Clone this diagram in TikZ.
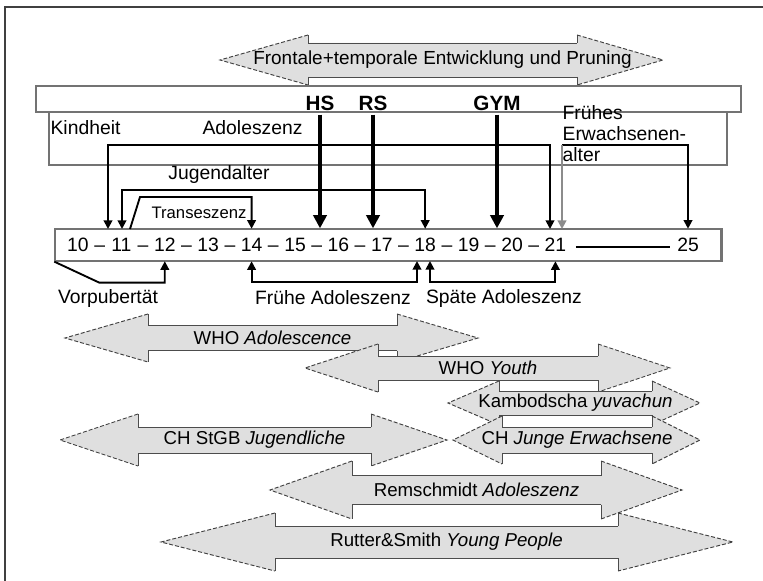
\documentclass[tikz,border=0pt]{standalone}
\usepackage{fontspec}
\setmainfont{Liberation Sans}
\usetikzlibrary{arrows.meta}

\tikzset{
  frame/.style={draw=black!75, line width=0.8pt},
  band/.style={draw=black!55, line width=1pt},
  lbl/.style={font=\fontsize{14.5}{15.75}\selectfont, inner sep=1pt},
  num/.style={font=\fontsize{14.5}{17}\selectfont, inner sep=0pt, text height=10.4pt, text depth=0pt, minimum height=24pt},
  school/.style={font=\fontsize{15.5}{18}\selectfont\bfseries, inner sep=3pt},
  schoolarr/.style={line width=2.4pt, -{Triangle[length=10pt,width=10pt]}},
  brk/.style={line width=1.4pt, >={Triangle[length=6.5pt,width=6.5pt]}},
  spanfill/.style={fill=gray!25},
  spanhead/.style={draw=black!75, line width=0.7pt, dash pattern=on 3pt off 1.5pt},
  spanline/.style={draw=black!70, line width=0.7pt},
  spantext/.style={font=\fontsize{14}{16}\selectfont, inner sep=1pt}
}

% gray double arrow: name, left tip, left back, right back, right tip, y, shaft half, head half, text
\newcommand{\spanarrow}[9]{%
  \fill[spanfill] (#2,#6) -- (#3,#6-#8) -- (#3,#6-#7) -- (#4,#6-#7) -- (#4,#6-#8) -- (#5,#6)
    -- (#4,#6+#8) -- (#4,#6+#7) -- (#3,#6+#7) -- (#3,#6+#8) -- cycle;
  \draw[spanline] (#3,#6-#7) -- (#3,#6-#8) (#3,#6+#7) -- (#3,#6+#8)
    (#4,#6-#7) -- (#4,#6-#8) (#4,#6+#7) -- (#4,#6+#8);
  \draw[spanhead] (#3,#6-#8) -- (#2,#6) -- (#3,#6+#8);
  \draw[spanhead] (#4,#6-#8) -- (#5,#6) -- (#4,#6+#8);
  \draw[spanline] (#3,#6-#7) -- (#4,#6-#7) (#3,#6+#7) -- (#4,#6+#7);
  \node[spantext] (#1) at ({(#3+#4)/2},#6) {#9};
}

\begin{document}
\begin{tikzpicture}[x=0.75pt, y=-0.75pt]
\useasboundingbox (0,0) rectangle (763,581);
\draw[frame] (5,581) -- (5,7) -- (763,7);

% development arrow on top
\spanarrow{front}{220}{308}{577}{663}{60}{17}{25}{\fontsize{14.2}{16}\selectfont Frontale+temporale Entwicklung und Pruning}

% school bands
\draw[band] (36,86) rectangle (741,112);
\draw[band] (49,112) rectangle (727,165);
\node[school] (HS) at (320,103) {HS};
\node[school] (RS) at (373,103) {RS};
\node[school] (GYM) at (497,103) {GYM};

\node[lbl, anchor=west] (kind) at (49,128) {Kindheit};
\node[lbl, anchor=west] (adol) at (201,128) {Adoleszenz};
\node[lbl, anchor=west, align=left] (erw) at (561,134) {Frühes\\Erwachsenen-\\alter};
\node[lbl] (jugend) at (219,175) {Jugendalter};
\node[lbl, font=\fontsize{12.5}{14}\selectfont] (trans) at (199,213) {Transeszenz};

% age scale
\node[band, minimum width=499.5pt, minimum height=24pt, inner sep=0pt] (ages) at (388,245) {};
\draw[draw=black!55, line width=2pt] (ages.north east) -- (ages.south east);
\foreach \n [count=\i from 0] in {10,...,21}
  \node[num] (a\n) at ({78+43.4*\i},245) {\n};
\foreach \n [count=\i from 0] in {10,...,20}
  \node[num] (d\n) at ({99.7+43.4*\i},245) {–};
\node[num] (a25) at (688,245) {25};
\draw[line width=0.8pt, shorten <=7pt, shorten >=5pt] ([yshift=-1.5pt]a21.east) -- ([yshift=-1.5pt]a25.west);

\coordinate (adL) at (108,229);
\coordinate (adR) at (550,229);
\coordinate (jgL) at (122,229);
\coordinate (trL) at (130,229);
\coordinate (frL) at (562,229);
\coordinate (frC) at (562,145);
\coordinate (fhR) at (417,261);
\coordinate (spL) at (430,261);

% school arrows
\draw[schoolarr] (HS.south) -- (HS.south |- ages.north);
\draw[schoolarr] (RS.south) -- (RS.south |- ages.north);
\draw[schoolarr] (GYM.south) -- (GYM.south |- ages.north);

% brackets above
\draw[brk,<->] (adL) -- ++(0,-84) -| (adR);
\draw[brk,<->] (jgL) -- ++(0,-39) -| (a18.north);
\draw[brk,->] (trL) -- ++(10,-32) -| (a14.north);
\draw[brk,->] (frC) -| (a25.north);
\draw[brk, draw=black!45, line width=1.8pt, ->] (frC) -- (frL);

% brackets below
\draw[brk,->] (ages.south west) -- ++(45,21) -| (a12.south);
\draw[brk,<->] (a14.south) -- ++(0,21) -| (fhR);
\draw[brk,<->] (spL) -- ++(0,21) -| (a21.south);
\node[lbl] (vorp) at (108,298) {Vorpubertät};
\node[lbl] (fruehA) at (333,298) {Frühe Adoleszenz};
\node[lbl] (spaetA) at (504,298) {Späte Adoleszenz};

% definitions
\spanarrow{whoA}{65}{148}{397}{478}{338}{12.5}{24}{WHO \textit{Adolescence}}
\spanarrow{whoY}{305}{378}{598}{670}{368}{12}{24}{WHO \textit{Youth}}
\spanarrow{kamb}{448}{499}{652}{700}{403}{12}{22}{Kambodscha \textit{yuvachun}}
\spanarrow{chStGB}{60}{138}{371}{447}{440}{13}{26}{CH StGB \textit{Jugendliche}}
\spanarrow{chJE}{453}{502}{652}{700}{440}{13}{24}{CH \textit{Junge Erwachsene}}
\spanarrow{remsch}{270}{352}{601}{682}{490}{14.5}{29}{Remschmidt \textit{Adoleszenz}}
\spanarrow{rutter}{161}{275}{618}{733}{542}{16}{29}{Rutter\&Smith \textit{Young People}}
\end{tikzpicture}
\end{document}
